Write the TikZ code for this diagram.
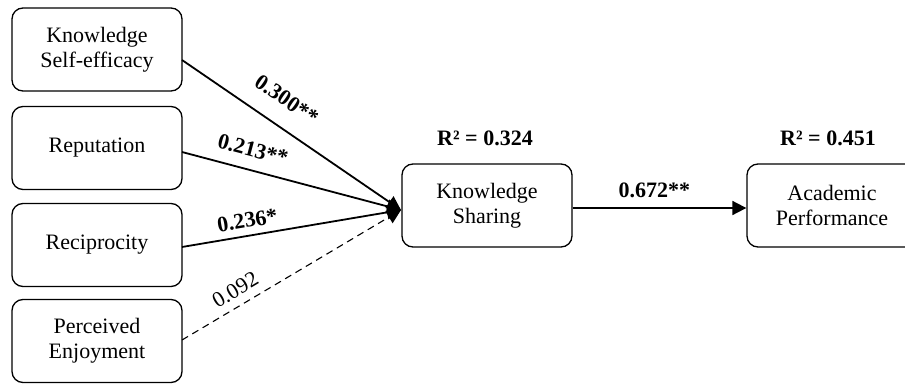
\documentclass[tikz,border=0pt]{standalone}
\usepackage{fontspec}
\setmainfont{Liberation Serif}
\usetikzlibrary{arrows.meta}
\begin{document}
\begin{tikzpicture}[x=1pt,y=-1pt,
  box/.style={draw, line width=1.3pt, rounded corners=11pt, minimum width=170pt, minimum height=83pt, align=center, inner sep=2pt, font=\fontsize{22}{25}\selectfont},
  path/.style={line width=1.8pt, -{Triangle[length=14pt,width=14pt]}},
  ns/.style={line width=1.1pt, dash pattern=on 7pt off 5pt, -{Triangle[length=14pt,width=14pt]}},
  lab/.style={font=\fontsize{22}{25}\selectfont\bfseries, sloped, inner sep=0pt},
  labn/.style={font=\fontsize{22}{25}\selectfont, sloped, inner sep=0pt},
  rsq/.style={font=\fontsize{22}{25}\selectfont\bfseries, inner sep=0pt}]
\useasboundingbox (0,0) rectangle (905,383);
\clip (0,0) rectangle (905,383);
\node[box] (b1) at (97,49.5) {Knowledge\\Self-efficacy};
\node[box] (b2) at (97,148) {Reputation};
\node[box] (b3) at (97,245) {Reciprocity};
\node[box] (b4) at (97,341) {Perceived\\Enjoyment};
\node[box] (ks) at (487,205.5) {Knowledge\\Sharing};
\node[box] (ap) at (832,205.5) {Academic\\Performance};
\coordinate (tip) at (401,210);
\coordinate (s1) at (182,60);
\coordinate (s2) at (182,152);
\coordinate (s3) at (182,247);
\coordinate (s4) at (182,340);
\draw[path] (s1) -- node[lab, pos=0.41, above=18pt] {0.300**} (tip);
\draw[path] (s2) -- node[lab, pos=0.30, above=12pt] {0.213**} (tip);
\draw[path] (s3) -- node[lab, pos=0.31, above=7pt] {0.236*} (tip);
\draw[ns] (s4) -- node[labn, pos=0.28, above=8pt] {0.092} (tip);
\draw[path] (ks.east |- 0,208) -- node[lab, pos=0.47, above=9pt] {0.672**} (ap.west |- 0,208);
\node[rsq] (r1) at (485,138) {R² = 0.324};
\node[rsq] (r2) at (828,138) {R² = 0.451};
\end{tikzpicture}
\end{document}
